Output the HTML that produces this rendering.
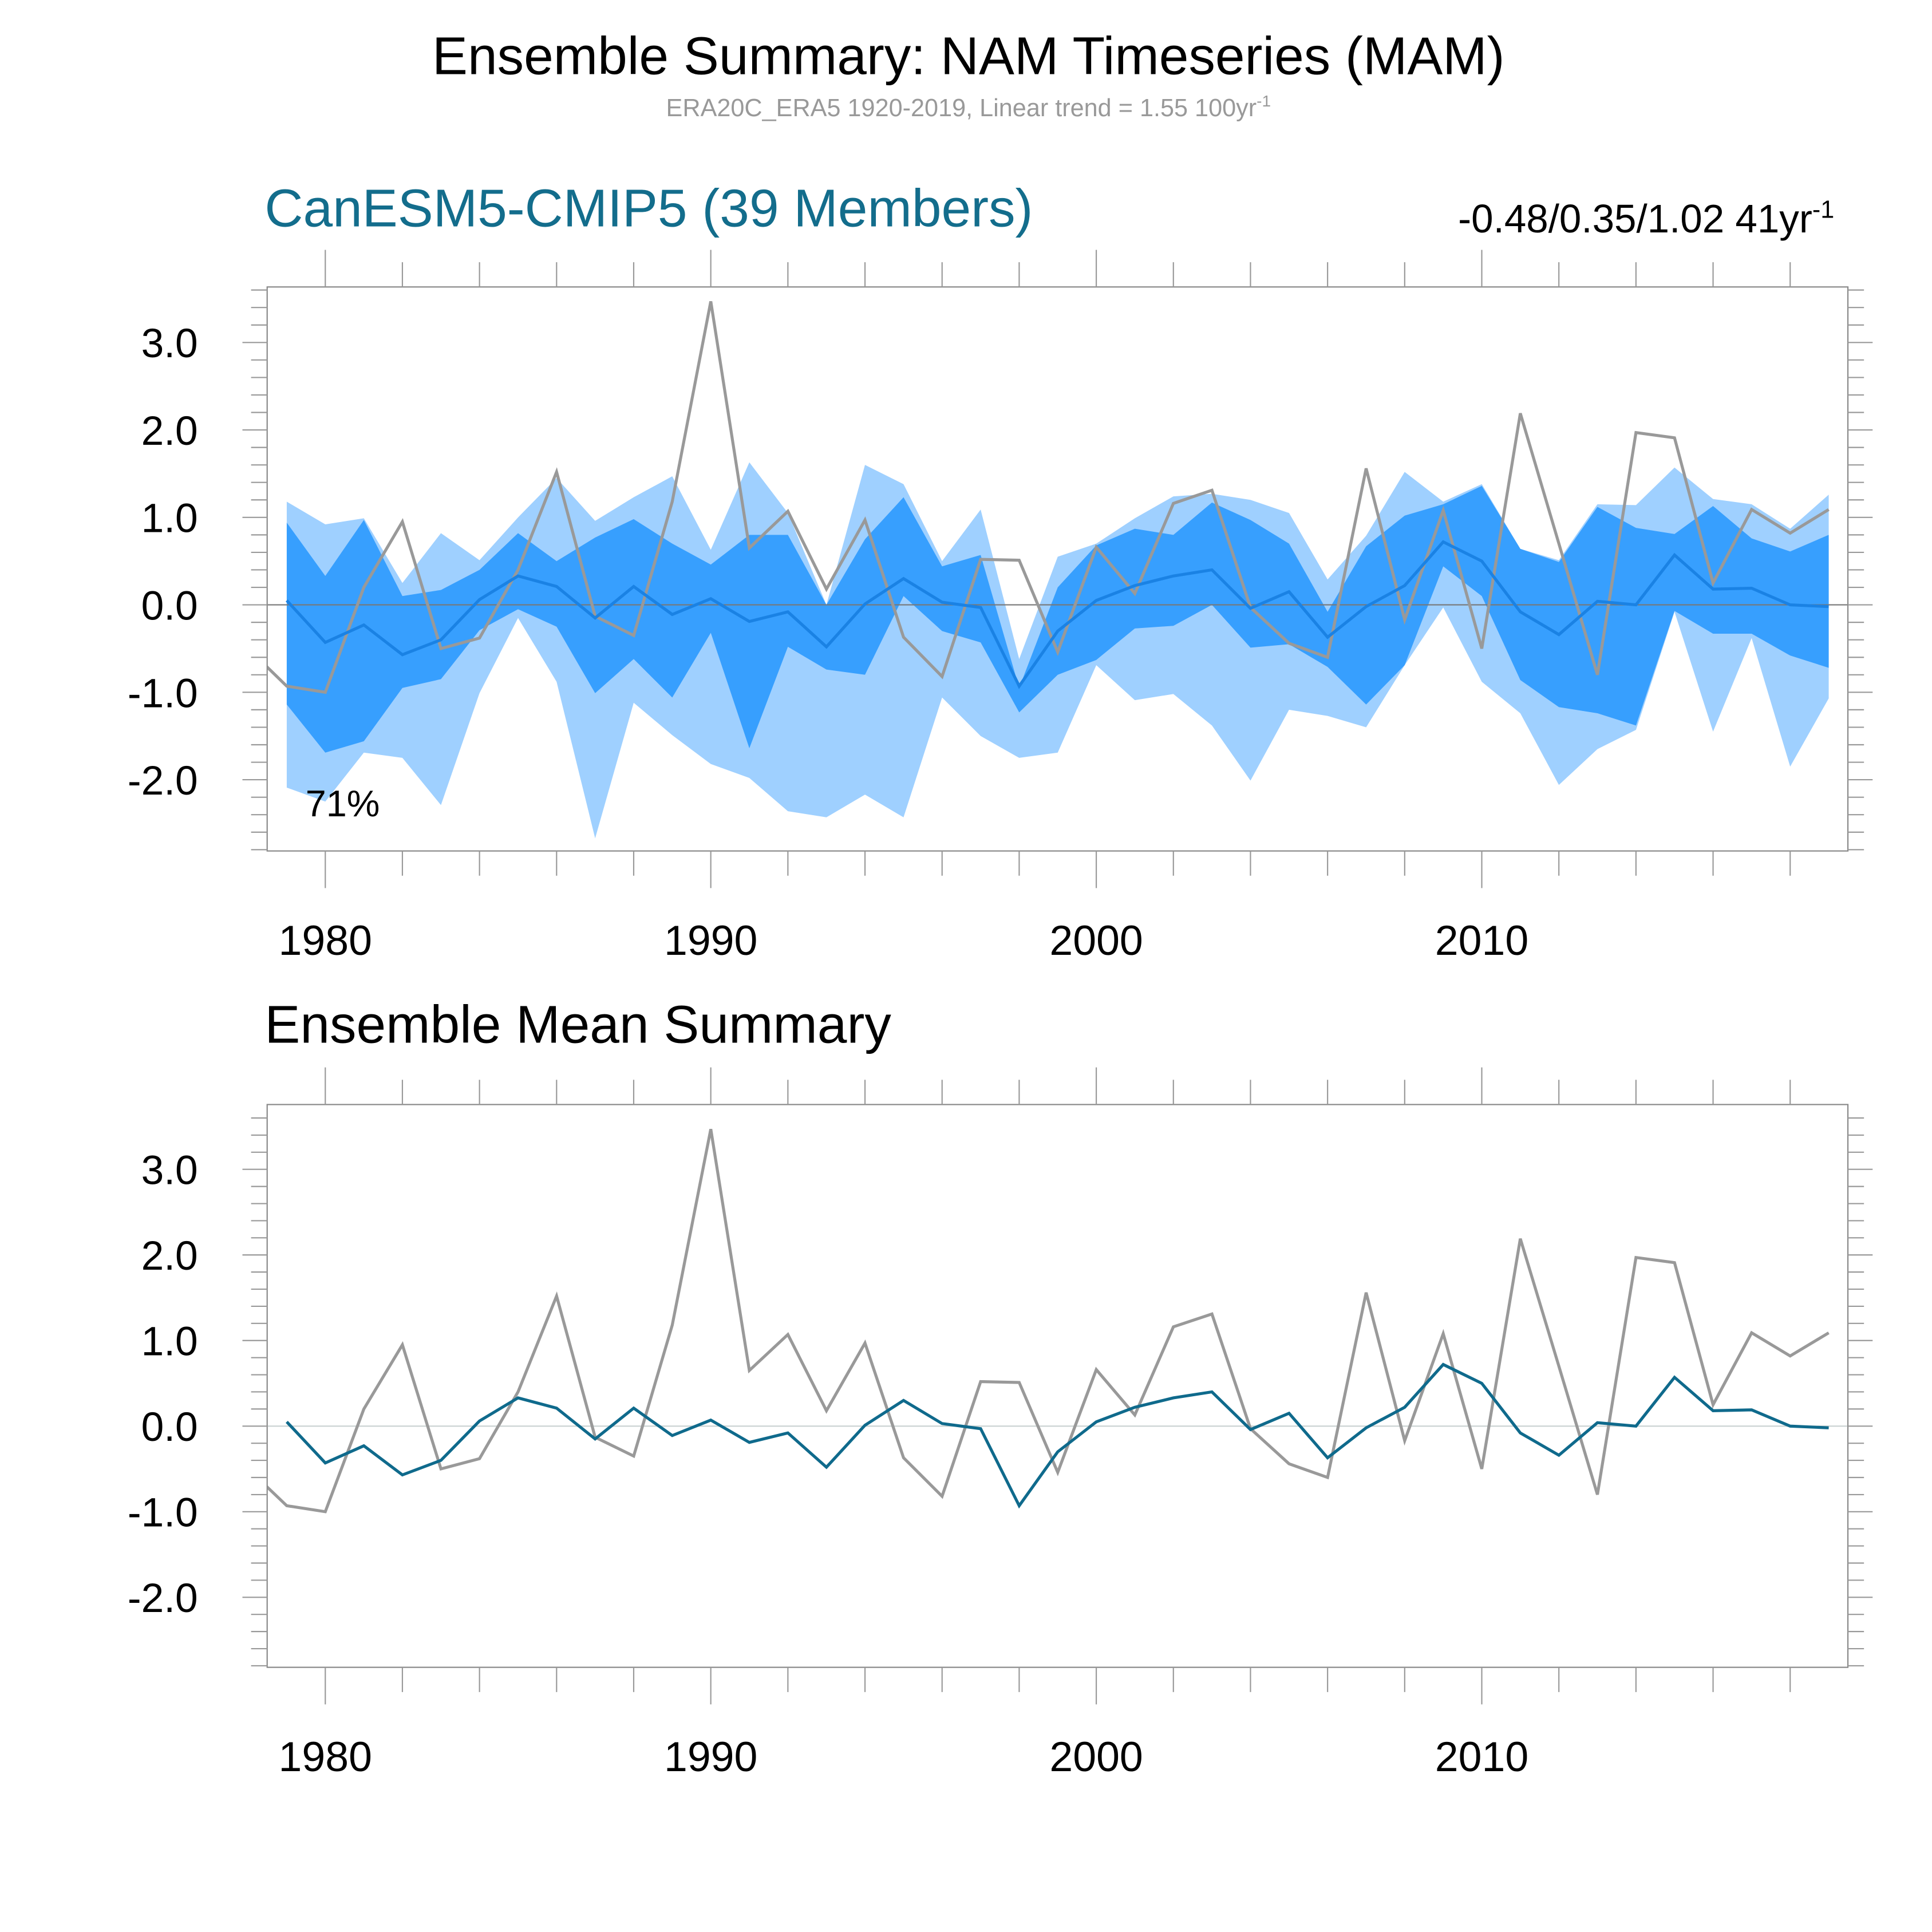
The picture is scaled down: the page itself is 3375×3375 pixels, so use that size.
<!DOCTYPE html>
<html><head><meta charset="utf-8">
<style>html,body{margin:0;padding:0;background:#fff}svg{display:block}text{font-family:"Liberation Sans",sans-serif}</style>
</head><body>
<svg id="chart" width="3375" height="3375" viewBox="0 0 1562 1562" xmlns="http://www.w3.org/2000/svg">
<text x="783" y="60" font-size="43" text-anchor="middle" fill="#000">Ensemble Summary: NAM Timeseries (MAM)</text>
<text x="783" y="94" font-size="20" text-anchor="middle" fill="#999">ERA20C_ERA5 1920-2019, Linear trend = 1.55 100yr<tspan dy="-8" font-size="13">-1</tspan></text>
<text x="214" y="183" font-size="43" fill="#136d8c">CanESM5-CMIP5 (39 Members)</text>
<text x="1483" y="188" font-size="32" text-anchor="end" fill="#000">-0.48/0.35/1.02 41yr<tspan dy="-12" font-size="20">-1</tspan></text>
<text x="214" y="843" font-size="43" fill="#000">Ensemble Mean Summary</text>
<g id="p1"></g>
<g id="p2"></g>
</svg>
<script>
const years=[];for(let y=1979;y<=2019;y++)years.push(y);
const obsYears=[1978].concat(years);
const obs=[-0.5,-0.93,-1.0,0.2,0.95,-0.5,-0.38,0.4,1.52,-0.13,-0.35,1.18,3.47,0.65,1.07,0.18,0.97,-0.37,-0.82,0.52,0.51,-0.54,0.66,0.13,1.16,1.31,-0.03,-0.44,-0.6,1.56,-0.17,1.08,-0.5,2.19,0.7,-0.8,1.97,1.91,0.25,1.09,0.82,1.09];
const ensMean=[0.05,-0.43,-0.23,-0.57,-0.40,0.06,0.33,0.21,-0.15,0.21,-0.11,0.07,-0.19,-0.08,-0.48,0.01,0.30,0.03,-0.03,-0.93,-0.30,0.05,0.22,0.33,0.40,-0.04,0.15,-0.37,-0.02,0.22,0.72,0.50,-0.08,-0.34,0.04,0.00,0.57,0.18,0.19,0.00,-0.02];
const lightTop=[1.18,0.92,0.99,0.25,0.82,0.51,1.0,1.45,0.96,1.23,1.47,0.63,1.63,1.05,0.0,1.6,1.38,0.50,1.09,-0.62,0.55,0.70,0.99,1.24,1.27,1.20,1.05,0.29,0.79,1.52,1.18,1.38,0.64,0.51,1.15,1.14,1.57,1.21,1.15,0.87,1.26];
const darkTop=[0.94,0.33,0.97,0.10,0.17,0.40,0.82,0.50,0.77,0.98,0.70,0.46,0.80,0.80,0.0,0.75,1.23,0.44,0.57,-0.95,0.20,0.68,0.87,0.80,1.17,0.97,0.70,-0.08,0.67,1.02,1.15,1.36,0.64,0.49,1.12,0.88,0.81,1.13,0.76,0.61,0.80];
const darkBot=[-1.14,-1.69,-1.56,-0.95,-0.85,-0.29,-0.05,-0.25,-1.01,-0.62,-1.06,-0.32,-1.64,-0.48,-0.74,-0.80,0.10,-0.30,-0.43,-1.23,-0.80,-0.63,-0.27,-0.24,0.0,-0.49,-0.45,-0.71,-1.14,-0.69,0.44,0.10,-0.86,-1.17,-1.24,-1.38,-0.07,-0.33,-0.33,-0.58,-0.72];
const lightBot=[-2.09,-2.25,-1.69,-1.75,-2.29,-1.01,-0.15,-0.88,-2.67,-1.12,-1.49,-1.82,-1.98,-2.36,-2.43,-2.17,-2.43,-1.06,-1.50,-1.75,-1.69,-0.69,-1.09,-1.02,-1.38,-2.01,-1.20,-1.27,-1.40,-0.69,-0.03,-0.88,-1.24,-2.06,-1.65,-1.43,-0.08,-1.45,-0.38,-1.85,-1.07];
const yTicks=[-2,-1,0,1,2,3];
const yTickLabels=["-2.0","-1.0","0.0","1.0","2.0","3.0"];
const xTicks=[1980,1990,2000,2010];

const NS="http://www.w3.org/2000/svg";
function mk(parent,tag,attrs){const e=document.createElementNS(NS,tag);for(const k in attrs)e.setAttribute(k,attrs[k]);parent.appendChild(e);return e;}
const L=216,R=1494;
const xs=y=>263+(y-1980)*(1198-263)/30;

function panel(g,top,bot,zeroY,unit,showBands,meanColor,id){
  const ys=v=>zeroY-v*unit;
  const clipId='clip'+id;
  const defs=mk(g,'defs',{});
  const cp=mk(defs,'clipPath',{id:clipId});
  mk(cp,'rect',{x:L,y:top,width:R-L,height:bot-top});
  const inner=mk(g,'g',{'clip-path':'url(#'+clipId+')'});
  if(showBands){
    const band=(up,lo,col,name)=>{
      let d='M'+years.map((y,i)=>xs(y)+','+ys(up[i])).join('L');
      for(let i=years.length-1;i>=0;i--)d+='L'+xs(years[i])+','+ys(lo[i]);
      const p=mk(inner,'path',{d:d+'Z',fill:col});
      
      
    };
    band(lightTop,lightBot,'#9fd0ff','outer-range-band');
    band(darkTop,darkBot,'#379ffe','inner-range-band');
  }
  const z=mk(inner,'line',{x1:L,x2:R,y1:ys(0),y2:ys(0),stroke:showBands?'#777':'#c8d0d0','stroke-width':1});
  
  
  const ol=mk(inner,'polyline',{points:obsYears.map((y,i)=>xs(y)+','+ys(obs[i])).join(' '),fill:'none',stroke:'#999','stroke-width':2.4,'stroke-linejoin':'miter'});
  
  
  const ml=mk(inner,'polyline',{points:years.map((y,i)=>xs(y)+','+ys(ensMean[i])).join(' '),fill:'none',stroke:meanColor,'stroke-width':2.4});
  
  
  const fr=mk(g,'rect',{x:L,y:top,width:R-L,height:bot-top,fill:'none',stroke:'#888','stroke-width':1});
  
  
  for(let v=-2.8;v<=3.8;v+=0.2){
    const vv=Math.round(v*10)/10;const yy=ys(vv);
    if(yy<top-0.5||yy>bot+0.5)continue;
    const maj=Math.abs(vv-Math.round(vv))<1e-6;
    const len=maj?20:13;
    mk(g,'line',{x1:L-len,x2:L,y1:yy,y2:yy,stroke:'#999','stroke-width':1});
    mk(g,'line',{x1:R,x2:R+len,y1:yy,y2:yy,stroke:'#999','stroke-width':1});
  }
  yTicks.forEach((v,i)=>{
    const t=mk(g,'text',{x:160,y:ys(v)+12,'font-size':33,'text-anchor':'end',fill:'#000'});
    t.textContent=yTickLabels[i];
    
    
  });
  for(let y=1980;y<=2018;y+=2){
    const maj=y%10===0;const len=maj?30:20;const x=xs(y);
    mk(g,'line',{x1:x,x2:x,y1:top-len,y2:top,stroke:'#999','stroke-width':1});
    mk(g,'line',{x1:x,x2:x,y1:bot,y2:bot+len,stroke:'#999','stroke-width':1});
  }
  xTicks.forEach(y=>{
    const t=mk(g,'text',{x:xs(y),y:bot+84,'font-size':34,'text-anchor':'middle',fill:'#000'});
    t.textContent=String(y);
    
    
  });
}
panel(document.getElementById('p1'),232,688,489,70.7,true,'#1a82e4','1');
panel(document.getElementById('p2'),893,1348,1153,69.2,false,'#0f6a8c','2');
const pct=mk(document.getElementById('p1'),'text',{x:247,y:660,'font-size':30,fill:'#000'});
pct.textContent='71%';


</script>
</body></html>
